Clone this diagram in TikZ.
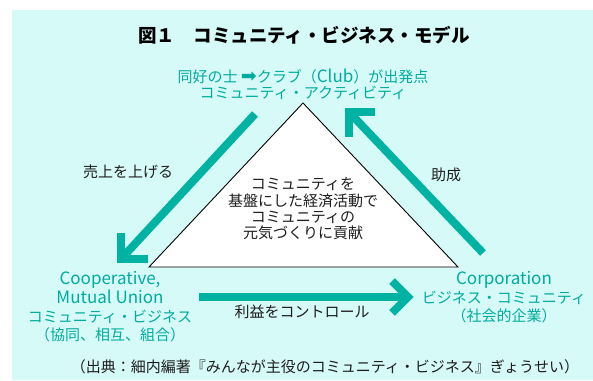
\documentclass[tikz,border=0pt]{standalone}
\usepackage{fontspec}
\setmainfont{Noto Sans CJK JP}
\newfontfamily\symfont{DejaVu Sans}
\usetikzlibrary{calc}
\definecolor{bgcyan}{RGB}{214,250,247}
\definecolor{tealA}{RGB}{0,178,162}
\definecolor{tealT}{RGB}{0,172,158}
\definecolor{txtgray}{RGB}{30,30,30}
\newcommand{\lat}[1]{{\fontsize{17}{18.7}\selectfont #1}}
\tikzset{
  shaft/.style={draw=tealA, line width=8pt},
  chev/.style={draw=tealA, line width=8pt, miter limit=10, line join=miter},
  lbl/.style={text=tealT, align=center, inner sep=0pt, font=\fontsize{15}{18.7}\selectfont},
  blk/.style={text=txtgray, align=center, inner sep=0pt, font=\fontsize{15}{16.3}\selectfont},
}
\begin{document}
\begin{tikzpicture}[x=1pt,y=-1pt]
\useasboundingbox (0,0) rectangle (593,380);
\fill[bgcyan] (12,10) rectangle (593,380);
% triangle
\coordinate (tl) at (149,267);
\coordinate (tt) at (303,103);
\coordinate (tr) at (458,267);
\draw[fill=white, draw=black, line width=0.9pt] (tl) -- (tt) -- (tr) -- cycle;
% left arrow (down-left)
\coordinate (la) at (255,114);
\coordinate (lb) at (121,259);
\draw[shaft] (la) -- (lb);
\draw[chev] ($(lb)+(0,-26)$) -- (lb) -- ($(lb)+(27,0)$);
% right arrow (up-left)
\coordinate (ra) at (483,253);
\coordinate (rb) at (349,112);
\draw[shaft] (ra) -- (rb);
\draw[chev] ($(rb)+(26,0)$) -- (rb) -- ($(rb)+(0,25)$);
% bottom arrow
\coordinate (ba) at (199,297);
\coordinate (bb) at (408,297);
\draw[shaft] (ba) -- (bb);
\draw[chev] ($(bb)+(-16,-16)$) -- (bb) -- ($(bb)+(-16,16)$);
% texts
\node[text=black, inner sep=0pt, font=\fontsize{18.5}{20}\selectfont\bfseries] (title) at (304,35) {図１　コミュニティ・ビジネス・モデル};
\node[lbl, font=\fontsize{15}{16.3}\selectfont] (top) at (303,84) {同好の士 {\symfont\fontsize{19}{16}\selectfont ➡}クラブ（\lat{Club}）が出発点\\コミュニティ・アクティビティ};
\node[lbl] (left) at (110,307) {\lat{Cooperative,}\\\lat{Mutual Union}\\コミュニティ・ビジネス\\（協同、相互、組合）};
\node[lbl, font=\fontsize{15}{18.5}\selectfont] (right) at (504,297.5) {\lat{Corporation}\\ビジネス・コミュニティ\\（社会的企業）};
\node[blk] (center) at (303,209) {コミュニティを\\基盤にした経済活動で\\コミュニティの\\元気づくりに貢献};
\node[blk] (uri) at (128,172) {売上を上げる};
\node[blk] (jo) at (446,175) {助成};
\node[blk] (ri) at (302,312) {利益をコントロール};
\node[blk] (src) at (325,367) {（出典：細内編著『みんなが主役のコミュニティ・ビジネス』ぎょうせい）};
\end{tikzpicture}
\end{document}
